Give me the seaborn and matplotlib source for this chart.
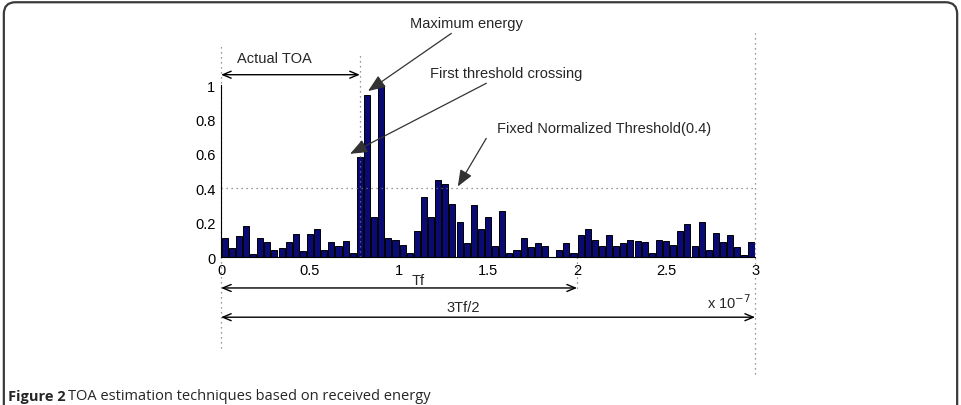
import numpy as np
import pandas as pd
import matplotlib.pyplot as plt
from matplotlib.patches import FancyBboxPatch
import seaborn as sns

# normalized energy per 4 ns bin (75 bins over 0 .. 3e-7 s)
energy = [
    0.11, 0.05, 0.12, 0.18, 0.015, 0.11, 0.09, 0.04, 0.055, 0.09,
    0.135, 0.035, 0.135, 0.16, 0.04, 0.09, 0.065, 0.095, 0.025,
    0.58, 0.94, 0.235, 1.0,
    0.11, 0.10, 0.07, 0.025, 0.15, 0.35, 0.23, 0.445, 0.425, 0.31,
    0.205, 0.08, 0.30, 0.16, 0.23, 0.062, 0.265, 0.023, 0.04, 0.11,
    0.056, 0.08, 0.062, 0.0, 0.04, 0.08, 0.023, 0.126, 0.165, 0.10,
    0.062, 0.126, 0.062, 0.08, 0.10, 0.095, 0.088, 0.023, 0.10, 0.095,
    0.07, 0.15, 0.19, 0.062, 0.205, 0.04, 0.14, 0.088, 0.126, 0.056,
    0.01, 0.088,
]
bin_width = 0.04  # in units of 1e-7 s
threshold = 0.4
toa = 0.78
tf = 2.0
t_end = 3.0
xticks = [0, 0.5, 1, 1.5, 2, 2.5, 3]
xtick_labels = ["0", "0.5", "1", "1.5", "2", "2.5", "3"]
yticks = [0, 0.2, 0.4, 0.6, 0.8, 1.0]
ytick_labels = ["0", "0.2", "0.4", "0.6", "0.8", "1"]

df = pd.DataFrame({
    "t": (np.arange(len(energy)) + 0.5) * bin_width,
    "energy": energy,
})

sns.set_style("white")
plt.rcParams["font.family"] = ["Liberation Sans", "DejaVu Sans"]

fig = plt.figure(figsize=(9.61, 4.06), dpi=100)
ax = fig.add_axes([0.23, 0.3645, 0.5557, 0.4236])

sns.barplot(data=df, x="t", y="energy", native_scale=True, width=0.85,
            color="#0a0a74", saturation=1, edgecolor="black", linewidth=0.7,
            ax=ax)

ax.set_xlim(0, t_end)
ax.set_ylim(0, 1)
ax.set_xticks(xticks)
ax.set_xticklabels(xtick_labels)
ax.set_yticks(yticks)
ax.set_yticklabels(ytick_labels)
ax.set_xlabel("")
ax.set_ylabel("")
ax.tick_params(direction="in", length=4, width=0.8, labelsize=10.5, pad=4,
               colors="black")
for s in ["top", "right"]:
    ax.spines[s].set_visible(False)
for s in ["left", "bottom"]:
    ax.spines[s].set_color("black")
    ax.spines[s].set_linewidth(0.8)

# threshold + guide lines
dot = dict(color="#777777", linestyle=(0, (1, 3)), linewidth=0.9, clip_on=False)
ax.plot([0, t_end], [threshold, threshold], **dot)
ax.plot([0, 0], [-0.53, 1.23], **dot)
ax.plot([toa, toa], [0, 1.18], **dot)
ax.plot([tf, tf], [0, -0.2], **dot)
ax.plot([t_end, t_end], [-0.68, 1.30], **dot)

# double arrows
dbl = dict(arrowstyle="<->,head_length=0.6,head_width=0.25", color="black",
           lw=1.0, shrinkA=0, shrinkB=0)
ax.annotate("", xy=(0, 1.06), xytext=(toa, 1.06), arrowprops=dbl,
            annotation_clip=False)
ax.annotate("", xy=(0, -0.18), xytext=(tf, -0.18), arrowprops=dbl,
            annotation_clip=False)
ax.annotate("", xy=(0, -0.35), xytext=(t_end, -0.35), arrowprops=dbl,
            annotation_clip=False)

ax.text(0.09, 1.155, "Actual TOA", fontsize=10.5, va="center", ha="left")
ax.text(1.107, -0.135, "Tf", fontsize=10.5, va="center", ha="center")
ax.text(1.36, -0.29, "3Tf/2", fontsize=10.5, va="center", ha="center")
ax.text(2.98, -0.26, r"x 10$^{-7}$", fontsize=10.5, va="center", ha="right")

# pointer annotations
ptr = dict(arrowstyle="-|>,head_length=1.0,head_width=0.4", color="#333333",
           lw=0.9, shrinkA=0, shrinkB=0)
ax.annotate("Maximum energy", xy=(0.826, 0.965), xytext=(1.06, 1.36),
            arrowprops=ptr, fontsize=10.5, va="center", ha="left",
            annotation_clip=False)
ax.annotate("First threshold crossing", xy=(0.725, 0.6), xytext=(1.174, 1.07),
            arrowprops=ptr, fontsize=10.5, va="center", ha="left",
            annotation_clip=False)
ax.annotate("", xy=(1.33, 0.41), xytext=(1.49, 0.69), arrowprops=ptr,
            annotation_clip=False)
ax.text(1.55, 0.75, "Fixed Normalized Threshold(0.4)", fontsize=10.5,
        va="center", ha="left")

# figure frame + caption
frame = FancyBboxPatch((0.004, -0.05), 0.992, 1.042,
                       boxstyle="round,pad=0,rounding_size=0.012",
                       transform=fig.transFigure, fill=False,
                       edgecolor="#3a3a3a", linewidth=1.6, mutation_aspect=2.4)
fig.patches.append(frame)
fig.text(0.008, 0.004, "Figure 2", fontsize=10.5, fontweight="bold",
         family=["Open Sans", "DejaVu Sans"], va="bottom", ha="left")
fig.text(0.071, 0.004, "TOA estimation techniques based on received energy",
         fontsize=10.5, family=["Open Sans", "DejaVu Sans"], va="bottom", ha="left")

fig.savefig("out.png", dpi=100)
